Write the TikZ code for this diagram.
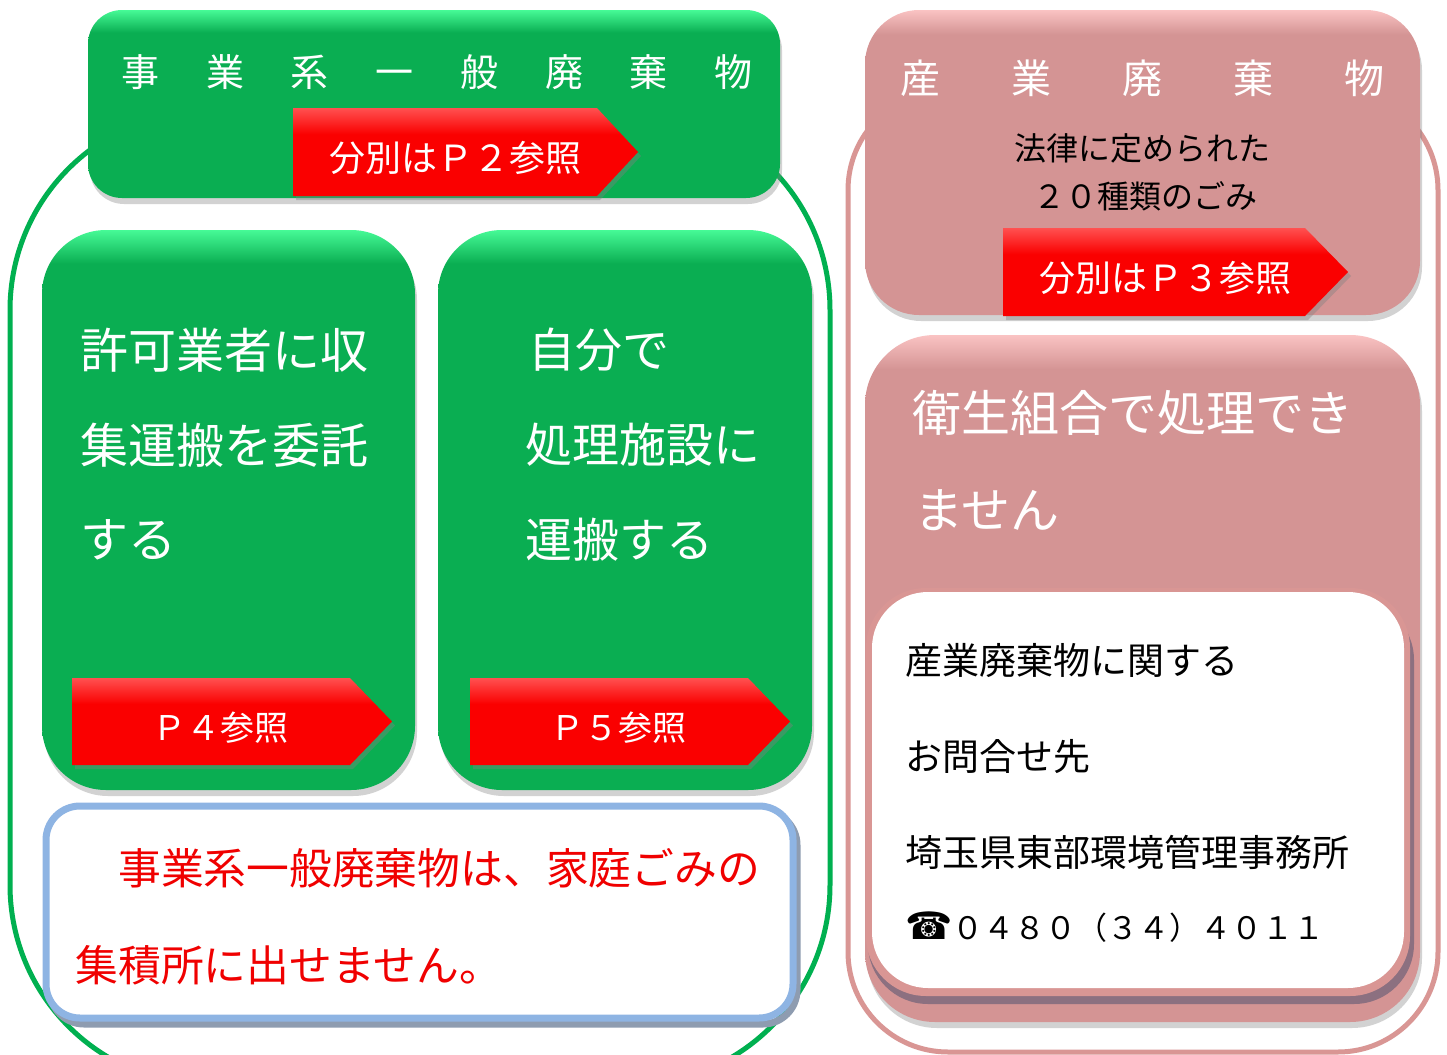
\documentclass[tikz,border=0pt]{standalone}
\usepackage{fontspec}
\setmainfont{Noto Sans CJK JP}
\newfontfamily\symfont{DejaVu Sans}
\usetikzlibrary{shadows}
\definecolor{gmain}{RGB}{10,174,82}
\definecolor{glight}{RGB}{70,250,150}
\definecolor{gline}{RGB}{0,176,80}
\definecolor{pmain}{RGB}{212,148,148}
\definecolor{plight}{RGB}{250,195,195}
\definecolor{pline}{RGB}{217,150,148}
\definecolor{pdark}{RGB}{140,112,128}
\definecolor{bline}{RGB}{142,180,227}
\definecolor{bshadow}{RGB}{142,156,176}
\definecolor{rmain}{RGB}{250,0,0}
\definecolor{rlight}{RGB}{255,80,80}
\definecolor{rtxt}{RGB}{240,0,0}
\pgfdeclareverticalshading{ghead}{100bp}{color(0bp)=(gmain); color(69bp)=(gmain); color(75bp)=(glight); color(100bp)=(glight)}
\pgfdeclareverticalshading{gtall}{100bp}{color(0bp)=(gmain); color(72bp)=(gmain); color(75bp)=(glight); color(100bp)=(glight)}
\pgfdeclareverticalshading{phead}{100bp}{color(0bp)=(pmain); color(71bp)=(pmain); color(75bp)=(plight); color(100bp)=(plight)}
\pgfdeclareverticalshading{ptall}{100bp}{color(0bp)=(pmain); color(72.5bp)=(pmain); color(75bp)=(plight); color(100bp)=(plight)}
\pgfdeclareverticalshading{rarr}{100bp}{color(0bp)=(rmain); color(60bp)=(rmain); color(75bp)=(rlight); color(100bp)=(rlight)}
\newcommand{\redarrow}[5]{%
  \shade[shading=rarr, arrshd] (#1,#2) -- (#5,#2) -- (#3,{(#2+#4)/2}) -- (#5,#4) -- (#1,#4) -- cycle;}
\begin{document}
\begin{tikzpicture}[x=0.5pt,y=-0.5pt,
  txt/.style={inner sep=0pt, anchor=west},
  ctxt/.style={inner sep=0pt, anchor=center},
  shd/.style={drop shadow={opacity=0.35, shadow xshift=1pt, shadow yshift=-3pt}},
  arrshd/.style={drop shadow={opacity=0.4, shadow xshift=1.5pt, shadow yshift=-2pt}},
  outline/.style={line width=2.5pt, rounded corners=#1},
  wtxt/.style={text=white}]
\useasboundingbox (0,0) rectangle (1447,1055);
\clip (0,0) rectangle (1447,1055);
\fill[white] (0,0) rectangle (1447,1055);

% big outlines
\draw[outline=100pt, draw=gline] (10,110) rectangle (830,1085);
\draw[outline=50pt, draw=pline] (848,90) rectangle (1438,1052);

% ---------- left: green header ----------
\shade[shading=ghead, shd, rounded corners=17pt] (88,10) rectangle (780,198);
\node[ctxt, wtxt, font=\fontsize{19pt}{19pt}\selectfont] (hjigyo) at (437,72)
  {事\hspace{23.35pt}業\hspace{23.35pt}系\hspace{23.35pt}一\hspace{23.35pt}般\hspace{23.35pt}廃\hspace{23.35pt}棄\hspace{23.35pt}物};
\redarrow{293}{108}{638}{196}{597}
\node[ctxt, wtxt, font=\fontsize{18pt}{18pt}\selectfont] (a1) at (455,158) {分別はＰ２参照};

% ---------- green box 1 ----------
\shade[shading=gtall, shd, rounded corners=32pt] (42,230) rectangle (415,790);
\node[txt, wtxt, font=\fontsize{24pt}{24pt}\selectfont] (k1) at (80,350) {許可業者に収};
\node[txt, wtxt, font=\fontsize{24pt}{24pt}\selectfont] (k2) at (80,445) {集運搬を委託};
\node[txt, wtxt, font=\fontsize{24pt}{24pt}\selectfont] (k3) at (80,540) {する};
\redarrow{72}{678}{392}{765}{350}
\node[ctxt, wtxt, font=\fontsize{17pt}{17pt}\selectfont] (a2) at (220,728) {Ｐ４参照};

% ---------- green box 2 ----------
\shade[shading=gtall, shd, rounded corners=32pt] (438,230) rectangle (812,790);
\node[txt, wtxt, font=\fontsize{23.5pt}{23.5pt}\selectfont] (j1) at (528,350) {自分で};
\node[txt, wtxt, font=\fontsize{23.5pt}{23.5pt}\selectfont] (j2) at (525,445) {処理施設に};
\node[txt, wtxt, font=\fontsize{23.5pt}{23.5pt}\selectfont] (j3) at (525,540) {運搬する};
\redarrow{470}{678}{790}{765}{748}
\node[ctxt, wtxt, font=\fontsize{17pt}{17pt}\selectfont] (a3) at (618,728) {Ｐ５参照};

% ---------- blue note box ----------
\draw[line width=3.5pt, draw=bshadow, rounded corners=17pt] (50,811) rectangle (797,1024);
\draw[line width=3.5pt, draw=bline, fill=white, rounded corners=17pt] (46,806) rectangle (793,1018);
\node[txt, text=rtxt, font=\fontsize{21.4pt}{21.4pt}\selectfont] (n1) at (75,868) {　事業系一般廃棄物は、家庭ごみの};
\node[txt, text=rtxt, font=\fontsize{21.4pt}{21.4pt}\selectfont] (n2) at (75,965) {集積所に出せません。};

% ---------- right: pink header ----------
\shade[shading=phead, shd, rounded corners=27pt] (865,10) rectangle (1420,315);
\node[ctxt, wtxt, font=\fontsize{20pt}{20pt}\selectfont] (hsangyo) at (1142,78)
  {産\hspace{35.5pt}業\hspace{35.5pt}廃\hspace{35.5pt}棄\hspace{35.5pt}物};
\node[ctxt, font=\fontsize{16pt}{16pt}\selectfont] (law1) at (1142,148) {法律に定められた};
\node[ctxt, font=\fontsize{16pt}{16pt}\selectfont] (law2) at (1145,196) {２０種類のごみ};
\redarrow{1003}{228}{1348}{316}{1305}
\node[ctxt, wtxt, font=\fontsize{18pt}{18pt}\selectfont] (a4) at (1165,278) {分別はＰ３参照};

% ---------- pink box 2 ----------
\shade[shading=ptall, shd, rounded corners=35pt] (865,335) rectangle (1420,1022);
\node[txt, wtxt, font=\fontsize{24.5pt}{24.5pt}\selectfont] (e1) at (912,413) {衛生組合で処理でき};
\node[txt, wtxt, font=\fontsize{24.5pt}{24.5pt}\selectfont] (e2) at (914,510) {ません};
\fill[pdark, rounded corners=30pt] (868,600) rectangle (1414,1004);
\fill[pline, rounded corners=30pt] (866,588) rectangle (1410,996);
\fill[white, rounded corners=28pt] (872,592) rectangle (1404,988);
\node[txt, font=\fontsize{18.5pt}{18.5pt}\selectfont] (c1) at (905,660) {産業廃棄物に関する};
\node[txt, font=\fontsize{18.5pt}{18.5pt}\selectfont] (c2) at (905,757) {お問合せ先};
\node[txt, font=\fontsize{18.5pt}{18.5pt}\selectfont] (c3) at (905,852) {埼玉県東部環境管理事務所};
\node[txt] (c4) at (905,927) {{\symfont\fontsize{19pt}{19pt}\selectfont ☎}{\fontsize{15.5pt}{15.5pt}\selectfont ０４８０（３４）４０１１}};
\end{tikzpicture}
\end{document}
